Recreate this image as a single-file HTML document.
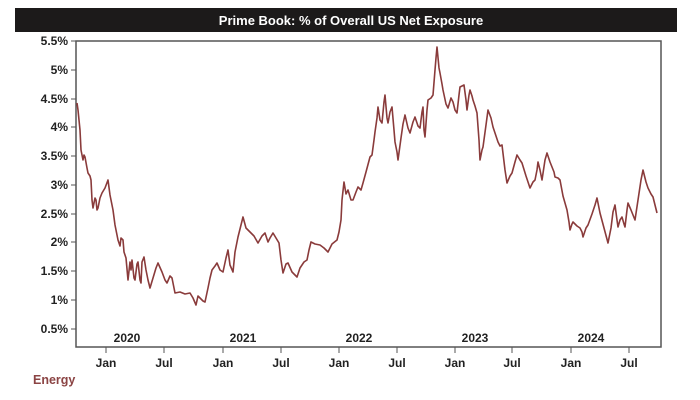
<!DOCTYPE html>
<html><head><meta charset="utf-8"><style>
body{margin:0;background:#fff;}
svg{display:block;font-family:"Liberation Sans",Arial,sans-serif;}
</style></head><body>
<svg width="700" height="400" viewBox="0 0 700 400">
<rect x="15" y="8" width="662" height="24" fill="#1c1a1a"/>
<text x="351" y="25" text-anchor="middle" fill="#fff" font-weight="bold" font-size="13">Prime Book: % of Overall US Net Exposure</text>
<rect x="76" y="41" width="585" height="306" fill="none" stroke="#555" stroke-width="1.5"/>
<g font-size="12" font-weight="bold" fill="#222" text-anchor="end">
<text x="68" y="45">5.5%</text><text x="68" y="74">5%</text><text x="68" y="103">4.5%</text>
<text x="68" y="131">4%</text><text x="68" y="160">3.5%</text><text x="68" y="189">3%</text>
<text x="68" y="218">2.5%</text><text x="68" y="246">2%</text><text x="68" y="275">1.5%</text>
<text x="68" y="304">1%</text><text x="68" y="333">0.5%</text>
</g>
<g stroke="#555" stroke-width="1">
<line x1="71" x2="76" y1="41" y2="41"/><line x1="71" x2="76" y1="70" y2="70"/><line x1="71" x2="76" y1="99" y2="99"/>
<line x1="71" x2="76" y1="127" y2="127"/><line x1="71" x2="76" y1="156" y2="156"/><line x1="71" x2="76" y1="185" y2="185"/>
<line x1="71" x2="76" y1="214" y2="214"/><line x1="71" x2="76" y1="242" y2="242"/><line x1="71" x2="76" y1="271" y2="271"/>
<line x1="71" x2="76" y1="300" y2="300"/><line x1="71" x2="76" y1="329" y2="329"/>
<line x1="106" x2="106" y1="347" y2="353"/><line x1="164" x2="164" y1="347" y2="353"/>
<line x1="223" x2="223" y1="347" y2="353"/><line x1="281" x2="281" y1="347" y2="353"/>
<line x1="339" x2="339" y1="347" y2="353"/><line x1="397" x2="397" y1="347" y2="353"/>
<line x1="455" x2="455" y1="347" y2="353"/><line x1="512" x2="512" y1="347" y2="353"/>
<line x1="571" x2="571" y1="347" y2="353"/><line x1="629" x2="629" y1="347" y2="353"/>
</g>
<g font-size="12" font-weight="bold" fill="#222" text-anchor="middle">
<text x="106" y="367">Jan</text><text x="164" y="367">Jul</text><text x="223" y="367">Jan</text><text x="281" y="367">Jul</text>
<text x="339" y="367">Jan</text><text x="397" y="367">Jul</text><text x="455" y="367">Jan</text><text x="512" y="367">Jul</text>
<text x="571" y="367">Jan</text><text x="629" y="367">Jul</text>
<text x="127" y="342">2020</text><text x="243" y="342">2021</text><text x="359" y="342">2022</text>
<text x="475" y="342">2023</text><text x="591" y="342">2024</text>
</g>
<text x="33" y="384" font-size="12.5" font-weight="bold" fill="#8b4444">Energy</text>
<polyline fill="none" stroke="#8a3b3b" stroke-width="1.6" stroke-linejoin="round" points="77,103 78,110 80,130 81,150 83,160 84,155 85,157 87,168 88,173 90,176 91,180 92,200 93,208 95,198 96,200 97,210 98,208 100,198 102,193 105,188 108,180 110,195 113,210 115,225 118,240 120,246 121,238 123,240 124,252 126,258 128,280 130,262 131,270 132,260 134,278 135,280 137,264 138,262 140,280 141,283 142,262 144,257 146,270 148,280 150,288 153,278 156,268 158,263 162,272 165,280 167,283 170,276 172,278 175,293 180,292 185,294 190,293 193,298 196,305 198,296 200,298 203,301 205,302 208,288 210,278 212,270 215,266 217,263 220,270 223,272 226,258 228,250 230,265 233,272 235,252 238,237 241,225 243,217 246,228 250,232 254,236 258,243 262,236 265,233 268,242 270,238 273,233 276,238 279,243 281,260 283,273 286,264 288,263 292,272 297,277 300,268 304,262 307,260 309,250 311,242 315,244 320,245 324,248 328,252 332,244 337,240 339,232 341,220 342,200 344,182 346,194 348,190 351,200 353,200 356,192 358,187 361,190 363,183 366,172 370,157 372,155 374,140 375,132 377,118 378,107 380,120 382,123 384,102 385,95 387,118 388,123 390,112 392,107 394,130 395,142 397,152 398,160 401,138 403,124 405,115 408,128 410,133 413,122 415,117 418,126 420,128 422,112 423,107 424,130 425,137 427,110 428,100 431,98 433,95 435,70 436,58 437,47 439,68 440,73 442,84 443,90 446,104 448,108 451,98 453,102 455,110 457,113 459,95 460,87 462,86 464,85 466,100 467,110 469,95 470,90 472,96 473,100 475,106 477,113 479,140 480,160 482,150 483,147 486,125 488,110 491,118 493,127 496,136 498,142 500,146 502,145 505,170 507,183 510,176 512,173 515,162 517,155 520,160 522,163 526,176 530,188 533,182 535,180 537,170 538,162 540,170 542,180 545,160 547,153 550,162 552,167 554,172 555,177 558,178 560,180 563,196 567,210 569,222 570,230 572,224 573,222 577,226 580,228 582,232 583,237 586,228 588,225 592,214 595,205 597,198 599,208 600,213 604,228 608,243 611,228 613,212 615,205 617,220 618,227 620,220 622,217 624,224 625,227 627,210 628,203 631,210 635,220 638,200 641,180 643,170 646,182 648,188 651,194 653,197 655,205 657,213"/>
</svg>
</body></html>
